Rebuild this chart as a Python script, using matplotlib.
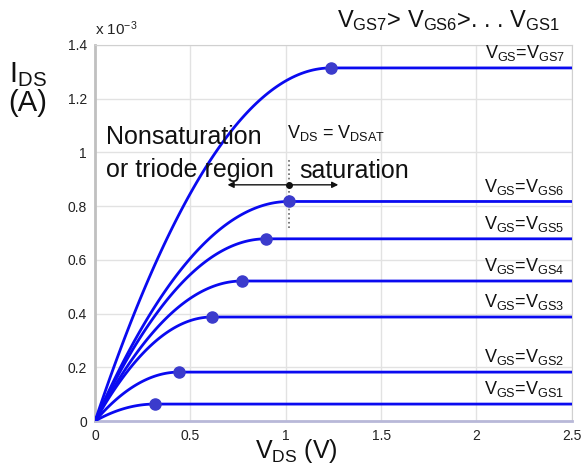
import numpy as np
import matplotlib
matplotlib.use("Agg")
import matplotlib.pyplot as plt

plt.rcParams['font.family'] = ['Liberation Sans', 'DejaVu Sans']
plt.rcParams['mathtext.fontset'] = 'custom'
plt.rcParams['mathtext.rm'] = 'Liberation Sans'
plt.rcParams['mathtext.it'] = 'Liberation Sans'

# saturation points (V, mA)
curve_names = ['GS1', 'GS2', 'GS3', 'GS4', 'GS5', 'GS6', 'GS7']
vdsat = [0.314, 0.440, 0.613, 0.770, 0.896, 1.017, 1.237]
idsat = [0.063, 0.182, 0.387, 0.521, 0.678, 0.817, 1.314]
vds_max = 2.5


def sub(base, s):
    return base + r'$_{\mathregular{%s}}$' % s


line_color = '#0a0af0'
dot_color = '#3b3bcc'
text_color = '#111111'

fig = plt.figure(figsize=(5.87, 4.67), dpi=100)
ax = fig.add_axes([0.162, 0.0985, 0.812, 0.8055])

for name, vd, isat in zip(curve_names, vdsat, idsat):
    # square-law triode region, flat in saturation
    v = np.linspace(0, vd, 80)
    t = v / vd
    i = isat * (2 * t - t ** 2)
    ax.plot(np.append(v, vds_max), np.append(i, isat), color=line_color, lw=2, zorder=3)
    ax.plot(vd, isat, 'o', color=dot_color, ms=8, zorder=4)
    ax.text(2.463, isat + 0.018, sub('V', 'GS') + '=' + sub('V', name),
            ha='right', va='bottom', fontsize=13, color=text_color)

ax.set_xlim(0, 2.5)
ax.set_ylim(0, 1.4)
ax.set_xticks([0, 0.5, 1, 1.5, 2, 2.5])
ax.set_xticklabels(['0', '0.5', '1', '1.5', '2', '2.5'])
ax.set_yticks([0, 0.2, 0.4, 0.6, 0.8, 1, 1.2, 1.4])
ax.set_yticklabels(['0', '0.2', '0.4', '0.6', '0.8', '1', '1.2', '1.4'])
ax.tick_params(length=0, labelsize=10, colors='#222222', pad=6)
ax.grid(True, color='#e2e2e2', lw=1)
ax.set_axisbelow(True)
for side in ['top', 'right']:
    ax.spines[side].set_color('#d0d0d0')
ax.spines['left'].set_color('#c0c0c0')
ax.spines['left'].set_linewidth(2)
ax.spines['bottom'].set_color('#b8b8d8')
ax.spines['bottom'].set_linewidth(2)

# region annotation
vx = vdsat[5]
ax.plot([vx, vx], [0.72, 0.97], ls=':', color='#666666', lw=1.2, zorder=2)
ax.annotate('', xy=(0.68, 0.879), xytext=(vx, 0.879),
            arrowprops=dict(arrowstyle='-|>', color=text_color, lw=1, mutation_scale=9))
ax.annotate('', xy=(1.29, 0.879), xytext=(vx, 0.879),
            arrowprops=dict(arrowstyle='-|>', color=text_color, lw=1, mutation_scale=9))
ax.plot(vx, 0.879, 'o', color=text_color, ms=4, zorder=5)
ax.text(0.055, 0.995, 'Nonsaturation\nor triode region', fontsize=18,
        ha='left', va='center', linespacing=1.45, color=text_color)
ax.text(1.005, 1.072, sub('V', 'DS') + ' = ' + sub('V', 'DSAT'), fontsize=13,
        ha='left', va='center', color=text_color)
ax.text(1.07, 0.93, 'saturation', fontsize=18, ha='left', va='center', color=text_color)

fig.text(0.162, 0.918, r'x 10$^{\mathregular{-3}}$', fontsize=11, ha='left', va='bottom',
         color='#222222')
fig.text(0.955, 0.955, sub('V', 'GS7') + '> ' + sub('V', 'GS6') + '>. . . ' + sub('V', 'GS1'),
         fontsize=17, ha='right', va='center', color=text_color)
fig.text(0.048, 0.81, sub('I', 'DS') + '\n(A)', fontsize=21, ha='center',
         va='center', linespacing=1.0, color=text_color)
fig.text(0.505, 0.035, sub('V', 'DS') + ' (V)', fontsize=18, ha='center', va='center',
         color=text_color)

fig.savefig('out.png', dpi=100)
